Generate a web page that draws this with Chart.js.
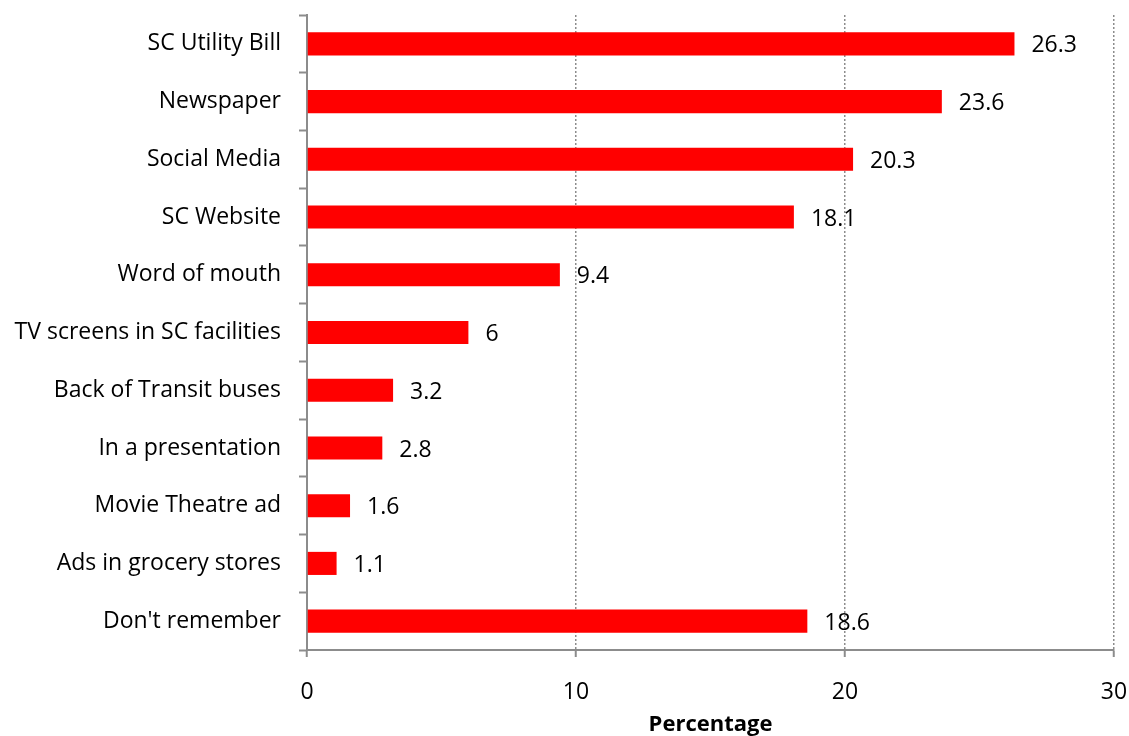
<!DOCTYPE html>
<html>
<head>
<meta charset="utf-8">
<script src="https://cdn.jsdelivr.net/npm/chart.js@4.4.1/dist/chart.umd.min.js"></script>
<style>
  html, body { margin: 0; padding: 0; background: #fff; }
  #wrap { width: 1129px; height: 736px; }
</style>
</head>
<body>
<div id="wrap"><canvas id="chart" width="1129" height="736"></canvas></div>
<script>
// Categories and values (percent)
const categories = [
    'SC Utility Bill', 'Newspaper', 'Social Media', 'SC Website', 'Word of mouth',
    'TV screens in SC facilities', 'Back of Transit buses', 'In a presentation',
    'Movie Theatre ad', 'Ads in grocery stores', "Don't remember"
];
const percentages = [26.3, 23.6, 20.3, 18.1, 9.4, 6, 3.2, 2.8, 1.6, 1.1, 18.6];
const xTicks = [0, 10, 20, 30];

const fontFamily = '"Open Sans", "Liberation Sans", sans-serif';
const axisGray = '#8c8c8c';

// Draw the value to the right of each bar
const valueLabels = {
    id: 'valueLabels',
    afterDatasetsDraw(chart) {
        const ctx = chart.ctx;
        const meta = chart.getDatasetMeta(0);
        ctx.save();
        ctx.font = '23px ' + fontFamily;
        ctx.fillStyle = '#000';
        ctx.textBaseline = 'middle';
        ctx.textAlign = 'left';
        meta.data.forEach(function (bar, i) {
            ctx.fillText(String(percentages[i]), bar.x + 17, bar.y + 2);
        });
        ctx.restore();
    }
};

const ctx = document.getElementById('chart').getContext('2d');
const chart = new Chart(ctx, {
    type: 'bar',
    data: {
        labels: categories,
        datasets: [{
            data: percentages,
            backgroundColor: '#ff0000',
            borderWidth: 0,
            categoryPercentage: 1,
            barPercentage: 0.4
        }]
    },
    options: {
        indexAxis: 'y',
        responsive: false,
        animation: false,
        layout: { padding: { top: 15, right: 15, left: 0, bottom: 0 } },
        plugins: {
            legend: { display: false },
            tooltip: { enabled: false }
        },
        scales: {
            x: {
                min: 0,
                max: 30,
                afterBuildTicks(scale) {
                    scale.ticks = xTicks.map(v => ({ value: v }));
                },
                afterFit(scale) {
                    scale.height = 86;
                    scale.paddingLeft = 0;
                    scale.paddingRight = 0;
                },
                ticks: {
                    color: '#000',
                    font: { family: fontFamily, size: 23 },
                    padding: 22
                },
                grid: {
                    color: c => (c.tick && c.tick.value === 0) ? 'rgba(0,0,0,0)' : axisGray,
                    lineWidth: 1.5,
                    tickColor: axisGray,
                    tickLength: 7,
                    tickWidth: 2
                },
                border: { color: axisGray, width: 2, dash: [2, 2] },
                title: {
                    display: true,
                    text: 'Percentage',
                    color: '#000',
                    font: { family: fontFamily, size: 22, weight: 'bold' },
                    padding: { top: 0, bottom: -2 }
                }
            },
            y: {
                afterFit(scale) {
                    scale.width = 307;
                    scale.paddingTop = 0;
                    scale.paddingBottom = 0;
                },
                ticks: {
                    color: '#000',
                    font: { family: fontFamily, size: 23 },
                    padding: 18
                },
                grid: {
                    offset: true,
                    drawOnChartArea: false,
                    tickColor: axisGray,
                    tickLength: 8,
                    tickWidth: 2
                },
                border: { color: axisGray, width: 2 }
            }
        }
    },
    plugins: [valueLabels]
});
</script>
</body>
</html>
